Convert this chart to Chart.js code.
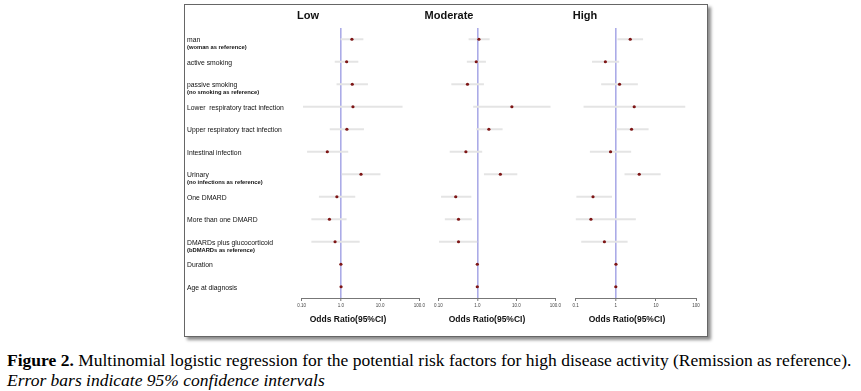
<!DOCTYPE html>
<html>
<head>
<meta charset="utf-8">
<script src="https://cdn.jsdelivr.net/npm/chart.js@4.4.1/dist/chart.umd.min.js"></script>
<style>
  body { margin: 0; background: #fff; width: 861px; height: 391px; position: relative; overflow: hidden; }
  #frame { position: absolute; left: 184px; top: 4px; width: 522px; height: 331px; border: 1px solid #666; box-shadow: 3px 3px 3px rgba(0,0,0,0.45); background: #fff; }
  canvas { position: absolute; }
  .ttl { position: absolute; font: bold 11px "Liberation Sans", Arial, sans-serif; color: #111; transform: translateX(-50%); white-space: nowrap; }
  .axt { position: absolute; font: bold 8.5px "Liberation Sans", Arial, sans-serif; color: #111; transform: translateX(-50%); white-space: nowrap; }
  #caption { position: absolute; left: 7px; top: 350px; font: 17.5px "Liberation Serif", "Times New Roman", serif; line-height: 20px; color: #000; white-space: nowrap; }
</style>
</head>
<body>
<div id="frame"></div>
<canvas id="lowChart" width="245" height="330" style="left:185px;top:5px"></canvas>
<canvas id="modChart" width="140" height="330" style="left:430px;top:5px"></canvas>
<canvas id="highChart" width="136" height="330" style="left:570px;top:5px"></canvas>

<div class="ttl" style="left:308px;top:9px">Low</div>
<div class="ttl" style="left:449px;top:9px">Moderate</div>
<div class="ttl" style="left:585px;top:9px">High</div>

<div class="axt" style="left:348px;top:314px">Odds Ratio(95%CI)</div>
<div class="axt" style="left:487px;top:314px">Odds Ratio(95%CI)</div>
<div class="axt" style="left:627px;top:314px">Odds Ratio(95%CI)</div>

<div id="caption"><b>Figure 2.</b> Multinomial logistic regression for the potential risk factors for high disease activity (Remission as reference).<br><i>Error bars indicate 95% confidence intervals</i></div>

<script>
// righe del forest plot
var rows = ['man', 'active smoking', 'passive smoking', 'Lower  respiratory tract infection',
  'Upper respiratory tract infection', 'Intestinal infection', 'Urinary', 'One DMARD',
  'More than one DMARD', 'DMARDs plus glucocorticoid', 'Duration', 'Age at diagnosis'];
var notes = ['(woman as reference)', '', '(no smoking as reference)', '', '', '',
  '(no infections as reference)', '', '', '(bDMARDs as reference)', '', ''];

// Low
var lowOR = [1.91, 1.40, 1.95, 2.03, 1.42, 0.45, 3.26, 0.79, 0.51, 0.71, 1.00, 1.01];
var lowLo = [1.00, 0.71, 0.79, 0.11, 0.53, 0.14, 1.08, 0.28, 0.18, 0.18, 0.98, 0.99];
var lowHi = [3.67, 2.73, 4.80, 36.7, 3.80, 1.51, 10.0, 2.28, 1.37, 2.95, 1.02, 1.03];

// Moderate
var modOR = [1.10, 0.94, 0.56, 7.7, 1.98, 0.51, 3.9, 0.28, 0.33, 0.33, 1.00, 1.00];
var modLo = [0.61, 0.55, 0.22, 0.80, 0.96, 0.20, 1.51, 0.12, 0.15, 0.106, 0.98, 0.99];
var modHi = [2.03, 1.63, 1.45, 74, 4.37, 1.31, 10.4, 0.69, 0.71, 0.98, 1.02, 1.01];

// High
var highOR = [2.29, 0.55, 1.24, 2.88, 2.47, 0.74, 3.84, 0.27, 0.24, 0.52, 1.01, 1.00];
var highLo = [1.12, 0.26, 0.44, 0.16, 1.04, 0.23, 1.68, 0.106, 0.10, 0.14, 0.99, 0.98];
var highHi = [4.7, 1.19, 3.48, 53, 6.45, 2.37, 12.9, 0.79, 3.1, 1.93, 1.03, 1.02];

var tickValues = [0.1, 1, 10, 100];
var tickLabelsA = ['0.10', '1.0', '10.0', '100.0'];
var tickLabelsB = ['0.1', '1', '10', '100'];

// etichette delle righe a sinistra (solo pannello Low)
var rowLabelPlugin = {
  id: 'rowLabels',
  afterDraw: function(chart) {
    var ctx = chart.ctx;
    var y = chart.scales.y;
    ctx.save();
    ctx.fillStyle = '#111';
    ctx.textBaseline = 'middle';
    ctx.textAlign = 'left';
    rows.forEach(function(r, i) {
      var py = y.getPixelForValue(i);
      ctx.font = '6.8px "Liberation Sans", Arial, sans-serif';
      ctx.fillText(r, 2, py + 1);
      if (notes[i]) {
        ctx.font = 'bold 5.8px "Liberation Sans", Arial, sans-serif';
        ctx.fillText(notes[i], 2, py + 8.5);
      }
    });
    ctx.restore();
  }
};

function makeForest(id, or, lo, hi, tickLabels, pad, plugins) {
  var ci = lo.map(function(v, i) { return [v, hi[i]]; });
  return new Chart(document.getElementById(id).getContext('2d'), {
    type: 'bar',
    data: {
      labels: rows,
      datasets: [{
        type: 'line',
        data: or,
        showLine: false,
        pointRadius: 1.6,
        pointBorderWidth: 0,
        pointBackgroundColor: '#7e1616',
        order: 0
      }, {
        data: ci,
        backgroundColor: '#e4e4e4',
        borderWidth: 0,
        barThickness: 1.5,
        order: 1
      }]
    },
    options: {
      indexAxis: 'y',
      responsive: false,
      animation: false,
      layout: { padding: pad },
      plugins: { legend: { display: false }, tooltip: { enabled: false } },
      scales: {
        y: { display: false, offset: true },
        x: {
          type: 'logarithmic',
          min: 0.1,
          max: 100,
          afterBuildTicks: function(scale) {
            scale.ticks = tickValues.map(function(v) { return { value: v }; });
          },
          afterFit: function(scale) { scale.height = 16; },
          border: { display: true, color: '#777', width: 1 },
          grid: {
            drawOnChartArea: true,
            tickLength: 3,
            tickColor: '#777',
            tickWidth: 1,
            color: function(c) { return c.tick && c.tick.value === 1 ? 'rgba(150,150,225,0.8)' : 'rgba(0,0,0,0)'; },
            lineWidth: function(c) { return c.tick && c.tick.value === 1 ? 1.6 : 1; }
          },
          ticks: {
            autoSkip: false,
            maxRotation: 0,
            padding: 2,
            color: '#444',
            font: { size: 4.5, family: '"Liberation Sans", Arial, sans-serif' },
            callback: function(v, i) { return tickLabels[i]; }
          }
        }
      }
    },
    plugins: plugins || []
  });
}

makeForest('lowChart', lowOR, lowLo, lowHi, tickLabelsA, { left: 116.7, right: 10.7, top: 23, bottom: 21 }, [rowLabelPlugin]);
makeForest('modChart', modOR, modLo, modHi, tickLabelsA, { left: 8.3, right: 14.7, top: 23, bottom: 21 });
makeForest('highChart', highOR, highLo, highHi, tickLabelsB, { left: 5.7, right: 10, top: 23, bottom: 21 });
</script>
</body>
</html>
